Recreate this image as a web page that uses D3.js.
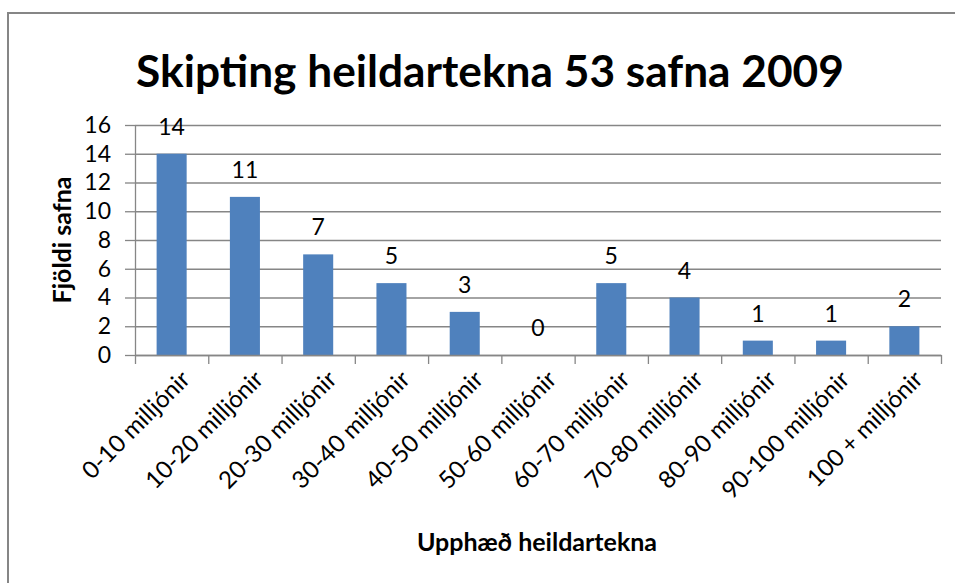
<!DOCTYPE html>
<html>
<head>
<meta charset="utf-8">
<script src="https://cdn.jsdelivr.net/npm/d3@7"></script>
<style>
  body { margin: 0; background: #fff; }
  text { font-family: Lato, "Open Sans", sans-serif; fill: #000; }
</style>
</head>
<body>
<div id="viz"></div>
<script>
// chart data
var categories = ['0-10 milljónir', '10-20 milljónir', '20-30 milljónir', '30-40 milljónir',
  '40-50 milljónir', '50-60 milljónir', '60-70 milljónir', '70-80 milljónir',
  '80-90 milljónir', '90-100 milljónir', '100 + milljónir'];
var counts = [14, 11, 7, 5, 3, 0, 5, 4, 1, 1, 2];
var yTicks = [0, 2, 4, 6, 8, 10, 12, 14, 16];

var titleText = 'Skipting heildartekna 53 safna 2009';
var yTitle = 'Fjöldi safna';
var xTitle = 'Upphæð heildartekna';

var W = 955, H = 583;
var plotLeft = 135, plotRight = 941, plotTop = 125, plotBottom = 355;
var grey = '#868686';
var barColor = '#4f81bd';

var svg = d3.select('#viz').append('svg')
  .attr('width', W)
  .attr('height', H);

// chart border (right and bottom edges are cut off in the picture)
svg.append('rect')
  .attr('x', 8).attr('y', 13)
  .attr('width', W + 10).attr('height', H + 10)
  .attr('fill', 'none')
  .attr('stroke', grey)
  .attr('stroke-width', 2);

// title, fitted to the width it takes in the picture
var title = svg.append('text')
  .attr('x', 490)
  .attr('y', 87)
  .attr('text-anchor', 'middle')
  .style('font-weight', 'bold')
  .style('font-size', '44px')
  .text(titleText);
var tw = title.node().getComputedTextLength();
title.style('font-size', (44 * 708 / tw) + 'px');

var y = d3.scaleLinear().domain([0, 16]).range([plotBottom, plotTop]);
var x = d3.scaleBand().domain(categories).range([plotLeft, plotRight])
  .paddingInner(0.59).paddingOuter(0.295);
var xEdges = d3.scaleLinear().domain([0, categories.length]).range([plotLeft, plotRight]);

// horizontal gridlines
svg.append('g')
  .attr('class', 'grid')
  .attr('transform', 'translate(' + plotLeft + ',0)')
  .call(d3.axisLeft(y).tickValues(yTicks).tickSize(-(plotRight - plotLeft)).tickFormat(''))
  .call(function (g) {
    g.select('.domain').remove();
    g.selectAll('line').attr('stroke', grey).attr('stroke-width', 1.3);
  });

// y axis with labels
svg.append('g')
  .attr('class', 'axis yAxis')
  .attr('transform', 'translate(' + plotLeft + ',0)')
  .call(d3.axisLeft(y).tickValues(yTicks).tickSize(10).tickSizeOuter(0).tickPadding(14))
  .call(function (g) {
    g.select('.domain').attr('stroke', grey).attr('stroke-width', 1.3);
    g.selectAll('line').attr('stroke', grey).attr('stroke-width', 1.3);
    g.selectAll('text').style('font-family', 'Lato, sans-serif').style('font-size', '23px');
  });

// bars
svg.selectAll('.bar')
  .data(counts)
  .enter()
  .append('rect')
  .attr('class', 'bar')
  .attr('x', function (d, i) { return x(categories[i]); })
  .attr('y', function (d) { return y(d); })
  .attr('width', x.bandwidth())
  .attr('height', function (d) { return plotBottom - y(d); })
  .attr('fill', barColor);

// x axis line and category boundary ticks
svg.append('g')
  .attr('class', 'axis xAxis')
  .attr('transform', 'translate(0,' + plotBottom + ')')
  .call(d3.axisBottom(xEdges).tickValues(d3.range(categories.length + 1)).tickSize(9).tickSizeOuter(0).tickFormat(''))
  .call(function (g) {
    g.select('.domain').attr('stroke', grey).attr('stroke-width', 1.3);
    g.selectAll('line').attr('stroke', grey).attr('stroke-width', 1.3);
  });

// rotated category labels
svg.append('g')
  .selectAll('text')
  .data(categories)
  .enter()
  .append('text')
  .attr('transform', function (d) {
    return 'translate(' + (x(d) + x.bandwidth() / 2 + 8) + ',' + (plotBottom + 14) + ') rotate(-45)';
  })
  .attr('text-anchor', 'end')
  .attr('dy', '0.7em')
  .style('font-size', '24px')
  .text(function (d) { return d; });

// value labels
svg.selectAll('.valueLabel')
  .data(counts)
  .enter()
  .append('text')
  .attr('class', 'valueLabel')
  .attr('x', function (d, i) { return x(categories[i]) + x.bandwidth() / 2; })
  .attr('y', function (d) { return y(d) - 19; })
  .attr('text-anchor', 'middle')
  .style('font-size', '23px')
  .text(function (d) { return d; });

// axis titles
svg.append('text')
  .attr('transform', 'translate(71,240) rotate(-90)')
  .attr('text-anchor', 'middle')
  .style('font-weight', 'bold')
  .style('font-size', '25px')
  .text(yTitle);

svg.append('text')
  .attr('x', 537)
  .attr('y', 551)
  .attr('text-anchor', 'middle')
  .style('font-weight', 'bold')
  .style('font-size', '25px')
  .text(xTitle);
</script>
</body>
</html>
